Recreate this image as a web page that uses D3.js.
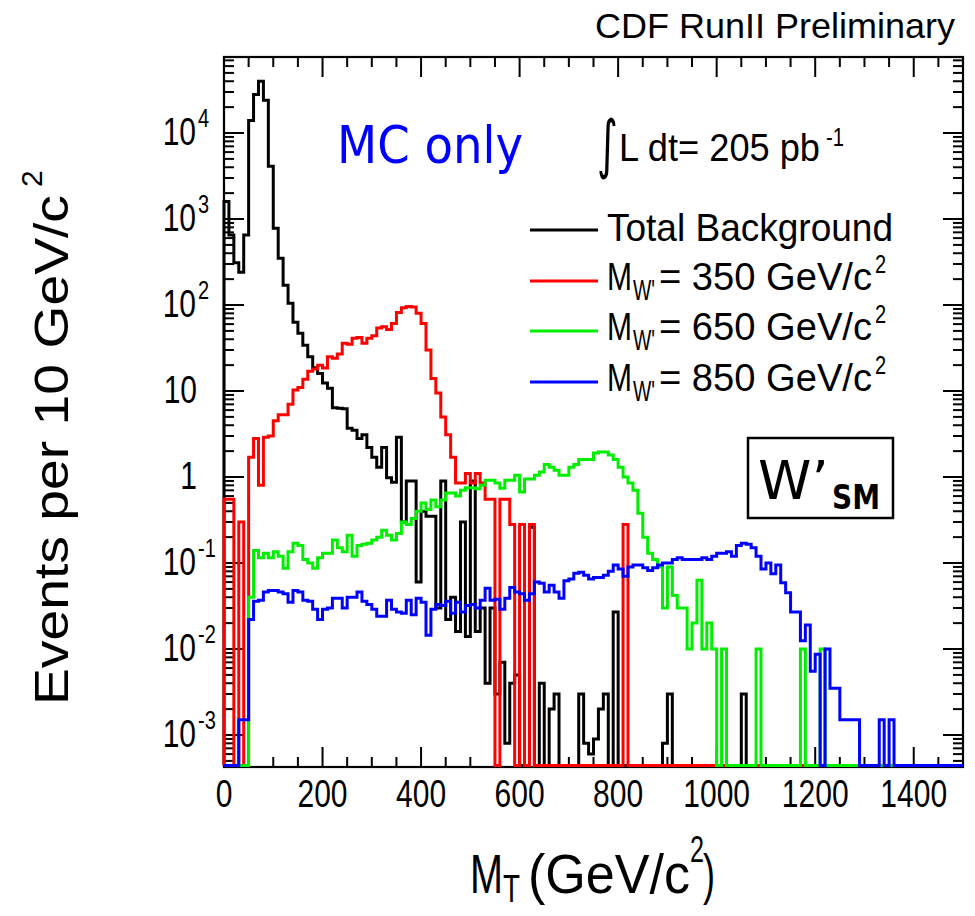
<!DOCTYPE html>
<html><head><meta charset="utf-8">
<script src="https://cdn.jsdelivr.net/npm/d3@7"></script>
<style>body{margin:0;background:#fff}text{font-family:"Liberation Sans",Arial,sans-serif}</style>
</head><body>
<svg id="c" width="975" height="916"></svg>
<script>
// ---- data (events per 10 GeV/c^2 bin, bins from 0 to 1500 GeV/c^2) ----
const binEdgesStart = d3.range(0, 1500, 10);
const totalBackground = [
1600,650,310,240,650,14000,28000,40000,24000,4100,
780,350,170,105,63,47,34,25,18.6,16,
12.4,10.8,6.4,6.3,6.2,3.7,3.5,2.8,3.1,2.2,
1.7,1.3,2.2,0.98,0.87,2.9,0.3,0.9,0.9,0.06,
0.4,0.35,0.35,0.03,0.9,0.022,0.04,0.016,0.3,0.014,
0.9,0.016,0.03,0.004,0.03,0.003,0.007,0.0008,0.004,0.005,
0,0,0.26,0,0.004,0,0.002,0.003,0,0,
0,0,0.003,0.0008,0.0006,0.0009,0.002,0.003,0,0.027,
0,0,0,0,0,0,0,0,0,0.0008,
0.003,0,0,0,0,0,0,0,0,0,
0,0,0,0,0,0.003,0,0,0,0,
0,0,0,0,0,0,0,0,0,0,
0,0,0,0,0,0,0,0,0,0,
0,0,0,0,0,0,0,0,0,0,
0,0,0,0,0,0,0,0,0,0];
const wprime350 = [
0.55,0.55,0,0.3,0,1.7,2.8,0.8,2.9,3.0,
4.5,5.3,5.3,7,10.3,11,13.7,17,18,20,
18.5,25,24,27,36,35,41,42,36,41,
44,54,56,52,61,82,93,96,95,80,
61,30,14,9.5,5,3.1,1.7,0.85,0.85,1.1,
0.85,1.1,0.85,0.55,0.55,0,0.55,0.55,0.28,0,
0.28,0,0.28,0,0,0,0,0,0,0,
0,0,0,0,0,0,0,0,0,0,
0,0.28,0,0,0,0,0,0,0,0,
0,0,0,0,0,0,0,0,0,0,
0,0,0,0,0,0,0,0,0,0,
0,0,0,0,0,0,0,0,0,0,
0,0,0,0,0,0,0,0,0,0,
0,0,0,0,0,0,0,0,0,0,
0,0,0,0,0,0,0,0,0,0];
const wprime650 = [
0,0,0,0,0,0.04,0.14,0.115,0.13,0.115,
0.135,0.12,0.087,0.135,0.17,0.16,0.11,0.10,0.087,0.115,
0.13,0.13,0.185,0.15,0.135,0.21,0.12,0.16,0.165,0.17,
0.185,0.2,0.24,0.21,0.185,0.22,0.3,0.28,0.33,0.4,
0.5,0.42,0.54,0.45,0.54,0.65,0.65,0.6,0.7,0.75,
0.75,0.73,0.8,0.92,0.92,0.85,0.74,0.92,0.92,1.05,
0.67,0.95,0.95,1.05,1.14,1.4,1.3,1.2,1.05,1.05,
1.3,1.4,1.6,1.6,1.6,1.9,1.95,1.95,1.8,1.6,
1.3,1.0,0.85,0.7,0.38,0.2,0.13,0.11,0.09,0.03,
0.09,0.042,0.03,0.03,0.01,0.02,0.063,0.01,0.02,0.01,
0,0.01,0,0,0,0,0,0,0.01,0,
0,0,0,0,0,0,0,0.01,0,0,
0,0.01,0,0,0,0,0,0,0,0,
0,0,0,0,0,0,0,0,0,0,
0,0,0,0,0,0,0,0,0,0];
const wprime850 = [
0,0,0,0.0015,0.0015,0.022,0.036,0.037,0.046,0.048,
0.048,0.046,0.044,0.035,0.048,0.046,0.037,0.036,0.029,0.022,
0.029,0.03,0.039,0.039,0.03,0.04,0.04,0.046,0.036,0.033,
0.029,0.024,0.024,0.037,0.029,0.027,0.026,0.037,0.025,0.039,
0.035,0.0145,0.029,0.033,0.032,0.036,0.026,0.035,0.027,0.032,
0.033,0.03,0.037,0.051,0.037,0.038,0.029,0.039,0.052,0.046,
0.044,0.037,0.044,0.06,0.058,0.046,0.055,0.046,0.039,0.062,
0.065,0.076,0.078,0.072,0.065,0.068,0.068,0.072,0.08,0.095,
0.085,0.07,0.09,0.095,0.095,0.088,0.082,0.088,0.095,0.1,
0.1,0.11,0.115,0.11,0.11,0.11,0.11,0.115,0.11,0.12,
0.13,0.13,0.135,0.12,0.16,0.17,0.165,0.15,0.12,0.085,
0.1,0.075,0.095,0.059,0.045,0.027,0.027,0.0125,0.019,0.0055,
0.0087,0,0.01,0.0035,0.0035,0.0015,0.0015,0.0015,0.0015,0,
0,0,0,0.0015,0,0.0015,0,0,0,0,
0,0,0,0,0,0,0,0,0,0];
const seriesLabels = ["Total Background", "350", "650", "850"];
const seriesColors = ["#000000", "#ff0000", "#00ee00", "#0000ff"];
const xMajorTicks = [0,200,400,600,800,1000,1200,1400];
const yDecades = [-3,-2,-1,0,1,2,3,4];

// ---- layout ----
const svg = d3.select("#c");
const X0 = 224, X1 = 963, Y0 = 57, Y1 = 767;
const x = d3.scaleLinear().domain([0, 1500]).range([X0, X1]);
const y = d3.scaleLog().domain([Math.pow(10, -3.372), Math.pow(10, 4.884)]).range([Y1, Y0]);
const ymin = y.domain()[0];
const S = 1.3; // vertical stretch of the original picture's text

// frame
svg.append("rect").attr("x", X0).attr("y", Y0).attr("width", X1 - X0).attr("height", Y1 - Y0)
  .attr("fill", "none").attr("stroke", "#000").attr("stroke-width", 2.2);

// ticks
const xMinor = d3.range(0, 1501, 50).filter(v => v % 200 !== 0);
const tickG = svg.append("g").attr("stroke", "#000").attr("stroke-width", 2);
function xTicks(vals, len) {
  vals.forEach(v => {
    tickG.append("line").attr("x1", x(v)).attr("x2", x(v)).attr("y1", Y1).attr("y2", Y1 - len);
    tickG.append("line").attr("x1", x(v)).attr("x2", x(v)).attr("y1", Y0).attr("y2", Y0 + len);
  });
}
xTicks(xMajorTicks, 20);
xTicks(xMinor, 10);
const yMinor = [];
for (let e = -4; e <= 4; e++) for (let m = 2; m <= 9; m++) {
  const v = m * Math.pow(10, e);
  if (v > ymin && v < y.domain()[1]) yMinor.push(v);
}
function yTicks(vals, len) {
  vals.forEach(v => {
    tickG.append("line").attr("y1", y(v)).attr("y2", y(v)).attr("x1", X0).attr("x2", X0 + len);
    tickG.append("line").attr("y1", y(v)).attr("y2", y(v)).attr("x1", X1).attr("x2", X1 - len);
  });
}
yTicks(yDecades.map(e => Math.pow(10, e)), 20);
yTicks(yMinor, 10);

// helper for stretched text
function stxt(px, py, str, size, anchor, len, sy) {
  const g = svg.append("g").attr("transform", `translate(${px},${py}) scale(1,${sy || S})`);
  const t = g.append("text").attr("font-size", size).attr("text-anchor", anchor || "start").text(str);
  if (len) t.attr("textLength", len).attr("lengthAdjust", "spacingAndGlyphs");
  return t;
}

// x tick labels
xMajorTicks.forEach(v => stxt(x(v), 807, String(v), 30, "middle"));
// y tick labels
yDecades.forEach(e => {
  const py = y(Math.pow(10, e)) + 12;
  if (e === 0) { stxt(197, py, "1", 30, "end"); return; }
  if (e === 1) { stxt(197, py, "10", 30, "end"); return; }
  const sup = String(e);
  stxt(196, py, "10", 30, "end");
  stxt(198, py - 18, sup, 20, "start");
});

// histograms
const allSeries = [totalBackground, wprime350, wprime650, wprime850];
const line = d3.line()
  .x(d => x(d[0]))
  .y(d => Math.min(y(Math.max(d[1], ymin)), Y1 - 1.5))
  .curve(d3.curveStepAfter);
allSeries.forEach((vals, k) => {
  const pts = [[0, 0]].concat(vals.map((v, i) => [binEdgesStart[i], v]));
  pts.push([1500, vals[vals.length - 1]]);
  svg.append("path").attr("d", line(pts)).attr("fill", "none")
    .attr("stroke", seriesColors[k]).attr("stroke-width", 3).attr("stroke-linejoin", "miter");
});

// title at top
stxt(595, 38, "CDF RunII Preliminary", 28, "start", 360, 1.25);

// MC only
svg.append("text").attr("x", 337).attr("y", 163).attr("font-size", 52)
  .attr("fill", "#0000ff").style("font-family", "'DejaVu Sans', Verdana, sans-serif")
  .attr("textLength", 186).attr("lengthAdjust", "spacingAndGlyphs").text("MC only");

// luminosity
stxt(597, 166, "\u222B", 40, "start", null, 1.6).style("font-family", "'DejaVu Sans', sans-serif");
stxt(619, 161, "L dt= 205 pb", 30, "start", 201);
stxt(826, 146, "-1", 20, "start", 18);

// legend
const rowY = [230, 281, 331, 382];
rowY.forEach((ry, k) => {
  svg.append("line").attr("x1", 530).attr("x2", 598).attr("y1", ry).attr("y2", ry)
    .attr("stroke", seriesColors[k]).attr("stroke-width", 3);
  if (k === 0) { stxt(607, ry + 11, seriesLabels[0], 30, "start", 286); return; }
  stxt(607, ry + 9, "M", 30, "start", 25);
  stxt(633, ry + 19, "W'", 22, "start", 22);
  stxt(659, ry + 9, "= " + seriesLabels[k] + " GeV/c", 30, "start", 213);
  stxt(875, ry - 8, "2", 20, "start");
});

// W'_SM box
svg.append("rect").attr("x", 748).attr("y", 438).attr("width", 145).attr("height", 80)
  .attr("fill", "none").attr("stroke", "#000").attr("stroke-width", 2.5);
svg.append("text").attr("x", 758).attr("y", 499).attr("font-size", 54)
  .style("font-family", "'DejaVu Sans', Verdana, sans-serif").text("W\u2019");
svg.append("text").attr("x", 832).attr("y", 509).attr("font-size", 33).attr("font-weight", "bold")
  .style("font-family", "'DejaVu Sans', Verdana, sans-serif").attr("textLength", 48)
  .attr("lengthAdjust", "spacingAndGlyphs").text("SM");

// axis titles
stxt(470, 893, "M", 40, "start", 33, 1.4);
stxt(503, 902, "T", 28, "start", 17, 1.4);
stxt(528, 893, "(GeV/c", 40, "start", 162, 1.4);
stxt(690, 862, "2", 26, "start", 14, 1.4);
stxt(703, 893, ")", 40, "start", 12, 1.4);

const yt = svg.append("g").attr("transform", `translate(68,705) rotate(-90)`);
yt.append("text").attr("font-size", 48).attr("textLength", 510)
  .attr("lengthAdjust", "spacingAndGlyphs").text("Events per 10 GeV/c");
yt.append("text").attr("x", 518).attr("y", -26).attr("font-size", 30).text("2");
</script>
</body></html>
